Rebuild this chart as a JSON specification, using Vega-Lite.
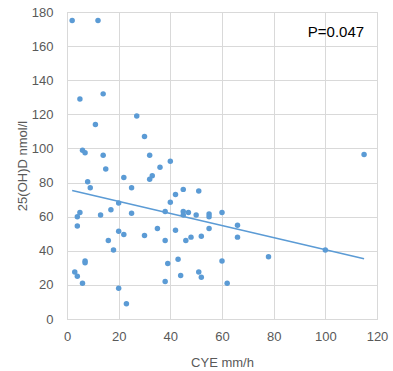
{
  "$schema": "https://vega.github.io/schema/vega-lite/v6.json",
  "autosize": {"type": "none"},
  "padding": {"left": 67, "top": 12, "right": 16, "bottom": 52},
  "width": 310,
  "height": 307,
  "background": "white",
  "config": {
    "view": {"stroke": "#d9d9d9", "strokeWidth": 1},
    "font": "Liberation Sans",
    "axis": {
      "gridColor": "#d9d9d9",
      "domainColor": "#d9d9d9",
      "tickSize": 0,
      "labelColor": "#595959",
      "titleColor": "#595959",
      "labelFontSize": 13,
      "titleFontSize": 13,
      "titleFontWeight": "normal",
      "labelFont": "Liberation Sans",
      "titleFont": "Liberation Sans",
      "labelOverlap": false,
      "labelFlush": false,
      "labelBound": false
    }
  },
  "datasets": {
    "points": [
      {"cye": 2, "oh": 175}, {"cye": 12, "oh": 175}, {"cye": 5, "oh": 129}, {"cye": 14, "oh": 132},
      {"cye": 11, "oh": 114}, {"cye": 27, "oh": 119}, {"cye": 30, "oh": 107}, {"cye": 6, "oh": 99},
      {"cye": 7, "oh": 97.5}, {"cye": 14, "oh": 96}, {"cye": 32, "oh": 96}, {"cye": 15, "oh": 88},
      {"cye": 36, "oh": 89}, {"cye": 40, "oh": 92.5}, {"cye": 8, "oh": 80.5}, {"cye": 22, "oh": 83},
      {"cye": 33, "oh": 84}, {"cye": 32, "oh": 82}, {"cye": 9, "oh": 77}, {"cye": 25, "oh": 77},
      {"cye": 45, "oh": 76}, {"cye": 51, "oh": 75}, {"cye": 42, "oh": 73}, {"cye": 40, "oh": 68.5},
      {"cye": 20, "oh": 68}, {"cye": 17, "oh": 64}, {"cye": 13, "oh": 61}, {"cye": 5, "oh": 62.5},
      {"cye": 4, "oh": 60}, {"cye": 25, "oh": 62}, {"cye": 38, "oh": 63}, {"cye": 45, "oh": 63},
      {"cye": 45, "oh": 61}, {"cye": 47, "oh": 62.5}, {"cye": 50, "oh": 61}, {"cye": 55, "oh": 61.5},
      {"cye": 55, "oh": 60}, {"cye": 60, "oh": 62.5}, {"cye": 66, "oh": 55}, {"cye": 55, "oh": 53},
      {"cye": 4, "oh": 54.5}, {"cye": 35, "oh": 53}, {"cye": 20, "oh": 51.5}, {"cye": 22, "oh": 49.5},
      {"cye": 30, "oh": 49}, {"cye": 42, "oh": 52}, {"cye": 52, "oh": 48.5}, {"cye": 48, "oh": 48},
      {"cye": 46, "oh": 46}, {"cye": 66, "oh": 48}, {"cye": 16, "oh": 46}, {"cye": 38, "oh": 46},
      {"cye": 18, "oh": 40.5}, {"cye": 7, "oh": 34}, {"cye": 7, "oh": 33}, {"cye": 3, "oh": 27.5},
      {"cye": 4, "oh": 25}, {"cye": 6, "oh": 21}, {"cye": 20, "oh": 18}, {"cye": 23, "oh": 9},
      {"cye": 38, "oh": 22}, {"cye": 39, "oh": 32.5}, {"cye": 43, "oh": 35}, {"cye": 44, "oh": 25.5},
      {"cye": 51, "oh": 27.5}, {"cye": 52, "oh": 24.5}, {"cye": 62, "oh": 21}, {"cye": 60, "oh": 34},
      {"cye": 78, "oh": 36.5}, {"cye": 100, "oh": 40.5}, {"cye": 115, "oh": 96.5}
    ],
    "trend": [
      {"cye": 2, "oh": 75.3},
      {"cye": 115, "oh": 35.3}
    ],
    "note": [
      {"cye": 115, "oh": 168.5, "label": "P=0.047"}
    ]
  },
  "encoding": {
    "x": {
      "field": "cye", "type": "quantitative",
      "scale": {"domain": [0, 120], "nice": false, "zero": false},
      "axis": {"values": [0, 20, 40, 60, 80, 100, 120], "title": "CYE mm/h", "labelPadding": 11, "titlePadding": 13}
    },
    "y": {
      "field": "oh", "type": "quantitative",
      "scale": {"domain": [0, 180], "nice": false, "zero": false},
      "axis": {"values": [0, 20, 40, 60, 80, 100, 120, 140, 160, 180], "tickCount": 10, "title": "25(OH)D nmol/l", "labelPadding": 14, "titlePadding": 2}
    }
  },
  "layer": [
    {
      "data": {"name": "points"},
      "mark": {"type": "circle", "size": 30, "color": "#5B9BD5", "opacity": 1}
    },
    {
      "data": {"name": "trend"},
      "mark": {"type": "line", "color": "#5B9BD5", "strokeWidth": 1.5}
    },
    {
      "data": {"name": "note"},
      "mark": {"type": "text", "align": "right", "baseline": "middle", "fontSize": 15, "color": "#000000", "font": "Liberation Sans"},
      "encoding": {
        "text": {"field": "label"}
      }
    }
  ]
}
